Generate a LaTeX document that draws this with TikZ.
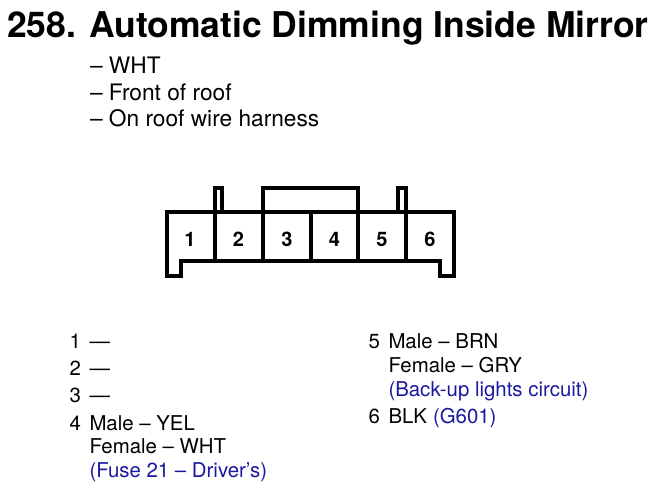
\documentclass[tikz,border=0pt]{standalone}
\usepackage{fontspec}
\setmainfont{TeX Gyre Heros}
\definecolor{circ}{RGB}{25,25,160}
\tikzset{
  wire/.style={line width=4.3pt,line join=miter,line cap=butt,draw=black},
  txt/.style={anchor=base west,inner sep=0pt,outer sep=0pt,font=\fontsize{20.4}{24}\selectfont},
  big/.style={txt,font=\fontsize{22.7}{26}\selectfont},
  blu/.style={txt,text=circ},
  num/.style={anchor=base,inner sep=0pt,font=\bfseries\fontsize{20}{22}\selectfont},
  ttl/.style={anchor=base west,inner sep=0pt,font=\bfseries\fontsize{35.5}{40}\selectfont}
}
\begin{document}
\begin{tikzpicture}[x=1pt,y=-1pt]
\useasboundingbox (0,0) rectangle (654,494);
\node[ttl] (t1) at (7,38) {258.};
\node[ttl] (t2) at (89,38) {Automatic Dimming Inside Mirror};
\node[big] (a1) at (90,74) {– WHT};
\node[big] (a2) at (90,101) {– Front of roof};
\node[big] (a3) at (90,127) {– On roof wire harness};
% connector
\draw[wire] (167,212) -- (454,212) -- (454,276) -- (440,276) -- (440,261) -- (181,261) -- (181,276) -- (167,276) -- cycle;
\foreach \x in {215,263,311,358,406} \draw[wire] (\x,212) -- (\x,261);
\draw[wire] (215,212) -- (215,188) -- (222,188) -- (222,212);
\draw[wire] (398,212) -- (398,188) -- (406,188) -- (406,212);
\draw[wire] (263,212) -- (263,188) -- (358,188) -- (358,212);
\node[num] (n1) at (190,247) {1};
\node[num] (n2) at (238.5,247) {2};
\node[num] (n3) at (287,247) {3};
\node[num] (n4) at (334.5,247) {4};
\node[num] (n5) at (382,247) {5};
\node[num] (n6) at (430,247) {6};
% left list
\node[txt] (l1) at (69.5,349) {1};
\node[txt] (d1) at (89.5,349) {—};
\node[txt] (l2) at (69.5,376) {2};
\node[txt] (d2) at (89.5,376) {—};
\node[txt] (l3) at (69.5,403) {3};
\node[txt] (d3) at (89.5,403) {—};
\node[txt] (l4) at (69.5,431) {4};
\node[txt] (m4) at (89.5,431) {Male – YEL};
\node[txt] (f4) at (89.5,454) {Female – WHT};
\node[blu] (c4) at (89.5,477.5) {(Fuse 21 – Driver’s)};
% right list
\node[txt] (l5) at (368.5,349) {5};
\node[txt] (m5) at (388.5,349) {Male – BRN};
\node[txt] (f5) at (388.5,373) {Female – GRY};
\node[blu] (c5) at (388.5,396.5) {(Back-up lights circuit)};
\node[txt] (l6) at (368.5,424) {6};
\node[txt] (b6) at (388.5,424) {BLK};
\node[blu] (g6) at (433,424) {(G601)};
\end{tikzpicture}
\end{document}
